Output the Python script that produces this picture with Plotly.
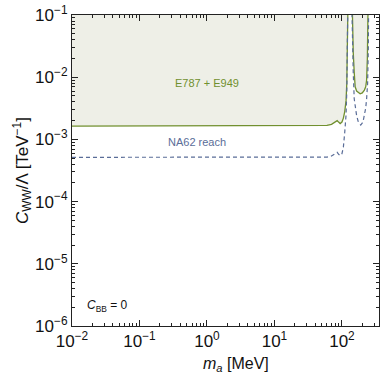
import plotly.graph_objects as go

# E787 + E949 exclusion boundary (MeV, TeV^-1), two mass windows around the pi0 gap
e949_mass_lo = [0.01, 0.1, 1, 10, 50, 60, 70, 80, 85, 90, 94, 100, 105, 110, 115, 118, 121, 124]
e949_c_lo = [1.64e-3, 1.64e-3, 1.64e-3, 1.64e-3, 1.65e-3, 1.68e-3, 1.75e-3, 1.88e-3, 2.0e-3,
             1.88e-3, 1.8e-3, 1.9e-3, 2.2e-3, 2.8e-3, 4.2e-3, 8e-3, 3e-2, 0.3]
e949_mass_hi = [140, 143, 147, 152, 157, 165, 175, 186, 200, 215, 225, 232, 238, 242, 246]
e949_c_hi = [0.3, 0.08, 0.025, 0.012, 7e-3, 6e-3, 5.6e-3, 5.4e-3, 5.6e-3, 6.2e-3, 7e-3,
             9e-3, 0.02, 0.06, 0.3]

# NA62 projected reach
na62_mass_lo = [0.01, 0.1, 1, 10, 50, 60, 70, 80, 85, 90, 95, 100, 105, 110, 115, 118, 121, 123]
na62_c_lo = [5.15e-4, 5.15e-4, 5.15e-4, 5.15e-4, 5.15e-4, 5.2e-4, 5.4e-4, 5.9e-4, 6.2e-4,
             5.7e-4, 5.5e-4, 5.9e-4, 7.5e-4, 1.3e-3, 2.5e-3, 6e-3, 3e-2, 0.3]
na62_mass_hi = [138, 142, 147, 152, 158, 165, 175, 190, 205, 215, 225, 232, 240, 246, 250]
na62_c_hi = [0.3, 0.05, 0.012, 4.5e-3, 3e-3, 2.4e-3, 1.9e-3, 1.7e-3, 1.9e-3, 2.4e-3,
             3.2e-3, 4.5e-3, 8e-3, 3e-2, 0.3]

# decade ticks
x_decades = [-2, -1, 0, 1, 2]
y_decades = [-6, -5, -4, -3, -2, -1]

ceiling = 1.0

GREEN = "#71902f"
FILL = "#eeefe7"
BLUE = "#5a6d98"
FONT = "Liberation Sans"


def power_labels(exps):
    return ["10<sup>" + str(e).replace("-", "−") + "</sup>" for e in exps]


fig = go.Figure()

# shaded excluded region: each window closed against a ceiling above the frame
fx, fy = [], []
for ms, cs in ((e949_mass_lo, e949_c_lo), (e949_mass_hi, e949_c_hi)):
    fx += list(ms) + [ms[-1], ms[0], ms[0], None]
    fy += list(cs) + [ceiling, ceiling, cs[0], None]
fig.add_trace(go.Scatter(x=fx, y=fy, mode="lines", fill="toself", fillcolor=FILL,
                         line=dict(width=0), hoverinfo="skip", showlegend=False))

fig.add_trace(go.Scatter(x=e949_mass_lo + [None] + e949_mass_hi,
                         y=e949_c_lo + [None] + e949_c_hi,
                         mode="lines", line=dict(color=GREEN, width=1.3),
                         connectgaps=False, showlegend=False))
fig.add_trace(go.Scatter(x=na62_mass_lo + [None] + na62_mass_hi,
                         y=na62_c_lo + [None] + na62_c_hi,
                         mode="lines", line=dict(color=BLUE, width=1.2, dash="4px,3px"),
                         connectgaps=False, showlegend=False))

fig.add_annotation(x=0.0, y=-2.09, xref="x", yref="y", text="E787 + E949",
                   showarrow=False, font=dict(family=FONT, size=11, color=GREEN))
fig.add_annotation(x=-0.15, y=-3.04, xref="x", yref="y", text="NA62 reach",
                   showarrow=False, font=dict(family=FONT, size=11, color=BLUE))
fig.add_annotation(x=-1.48, y=-5.68, xref="x", yref="y",
                   text="<i>C</i><sub>BB</sub> = 0",
                   showarrow=False, font=dict(family=FONT, size=12, color="#111"))

# x-axis title placed as a centred annotation below the tick labels
fig.add_annotation(x=0.535, y=-0.125, xref="paper", yref="paper", xanchor="center",
                   yanchor="middle", showarrow=False,
                   text="<i>m</i><sub><i>a</i></sub> [MeV]",
                   font=dict(family=FONT, size=16, color="#111"))

axis_common = dict(
    type="log", showgrid=False, zeroline=False, showline=True, linecolor="#222",
    linewidth=1, mirror="ticks", ticks="inside", ticklen=6, tickwidth=1,
    tickcolor="#222", tickmode="array",
    tickfont=dict(family=FONT, size=17, color="#111"),
    minor=dict(ticks="inside", ticklen=3, tickwidth=0.8, tickcolor="#222", dtick="D1",
               showgrid=False),
)

fig.update_xaxes(**axis_common, range=[-2, 2.549],
                 tickvals=[10.0 ** e for e in x_decades], ticktext=power_labels(x_decades))
fig.update_yaxes(**axis_common, range=[-6, -1],
                 tickvals=[10.0 ** e for e in y_decades], ticktext=power_labels(y_decades),
                 title=dict(text="<i>C</i><sub>WW</sub>/Λ [TeV<sup>−1</sup>]",
                            font=dict(family=FONT, size=17, color="#111"), standoff=2))

fig.update_layout(
    width=381, height=376,
    margin=dict(l=72, r=2, t=15, b=50),
    paper_bgcolor="white", plot_bgcolor="white",
)

fig.write_html("out.html")
